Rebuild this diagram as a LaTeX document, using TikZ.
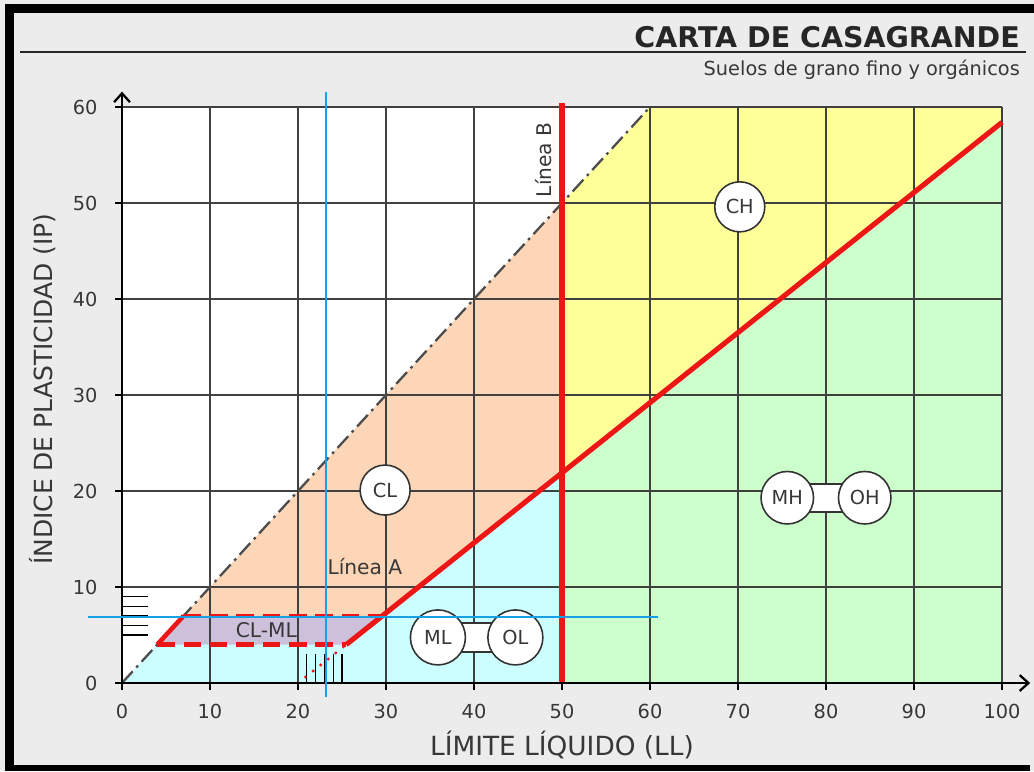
\documentclass[tikz,border=0pt]{standalone}
\usepackage{fontspec}
\setmainfont{DejaVu Sans}
\usepackage{tikz}
\usetikzlibrary{arrows.meta,positioning}
\definecolor{fondo}{RGB}{236,236,236}
\definecolor{cian}{RGB}{204,255,255}
\definecolor{naranja}{RGB}{252,214,182}
\definecolor{amarillo}{RGB}{255,255,153}
\definecolor{verde}{RGB}{204,255,204}
\definecolor{lila}{RGB}{204,192,218}
\definecolor{rojo}{RGB}{236,22,22}
\definecolor{azul}{RGB}{24,160,228}
\definecolor{texto}{RGB}{55,55,55}

\begin{document}
\begin{tikzpicture}[x=0.176cm,y=0.192cm,
font=\fontsize{11}{13}\selectfont,
soil/.style={circle,draw=black!80,fill=white,line width=0.9pt,minimum size=1cm,inner sep=0pt,text=texto,font=\fontsize{11}{13}\selectfont},
rejilla/.style={black!75,line width=0.6pt},
lineaRoja/.style={rojo,line width=2.9pt},
banda/.style={rojo,line width=2.6pt,dash pattern=on 10pt off 5pt},
guia/.style={azul,line width=1.1pt},
rayado/.style={black,line width=0.6pt},
enlace/.style={black!80,line width=0.9pt},
etiqueta/.style={text=texto,font=\fontsize{11}{13}\selectfont},
>={Straight Barb[length=5pt,width=9pt]}]
    % canvas and frame
    \useasboundingbox (-13.864,-9.167) rectangle (103.636,71.146);
    \fill[fondo] (-13.864,-9.167) rectangle (103.636,71.146);
    \fill[black] (-13.3,69.79) rectangle (103.636,70.73);
    \fill[black] (-13.3,-9.167) rectangle (-12.27,70.73);
    \fill[black] (-13.3,-9.167) rectangle (103.2,-8.54);

    % title
    \draw[black!85,line width=1.4pt] (-11.59,65.73) -- (102.73,65.73);
    \node[anchor=base east,text=black!85,font=\fontsize{16.2}{18}\bfseries] (titulo) at (102.73,66.2) {CARTA DE CASAGRANDE};
    \node[anchor=base east,text=texto,font=\fontsize{11}{13}\selectfont] (subtitulo) at (102.73,63.23) {Suelos de grano fino y orgánicos};

    \draw
    (0,0) coordinate (O)
    (25.48,4) coordinate (Ab)
    (29.59,7) coordinate (At)
    (50,21.9) coordinate (A50)
    (100,58.4) coordinate (A100)
    (50,0) coordinate (B0)
    (50,50) coordinate (B50)
    (60,60) coordinate (U60);

    % zones
    \fill[white] (O) rectangle (100,60);
    \fill[cian] (O) -- (B0) -- (A50) -- (At) -- (7,7) -- cycle;
    \fill[naranja] (7,7) -- (At) -- (A50) -- (B50) -- cycle;
    \fill[lila] (4,4) -- (Ab) -- (At) -- (7,7) -- cycle;
    \fill[amarillo] (B50) -- (A50) -- (A100) -- (100,60) -- (U60) -- cycle;
    \fill[verde] (B0) -- (100,0) -- (A100) -- (A50) -- cycle;

    % grid
    \foreach \x in {10,20,...,100}
        \draw[rejilla] (\x,0) -- (\x,60);
    \foreach \y in {10,20,...,60}
        \draw[rejilla] (0,\y) -- (100,\y);

    \draw[black!70,line width=1.3pt,dash pattern=on 9pt off 3pt on 1.5pt off 3pt] (O) -- (U60);

    \foreach \y in {5,...,9}
        \draw[rayado] (0,\y) -- (3,\y);
    \foreach \x in {21,...,25}
        \draw[rayado] (\x,0) -- (\x,3);

    % lines A and B
    \draw[lineaRoja] (Ab) -- (A100);
    \draw[rojo,line width=1.9pt,line cap=round,dash pattern=on 0pt off 5.5pt] (20,0) -- (Ab);
    \draw[rojo,line width=3.4pt] (B0) -- (50,60.4);
    \draw[banda] (7,7) -- (At);
    \draw[banda] (4,4) -- (Ab);
    \draw[rojo,line width=2.6pt] (4,4) -- (7,7);

    % axes
    \draw[<->,line width=1.3pt] (0,61.6) |- (103.2,0);
    \foreach \x in {0,10,...,100}
        \draw[line width=0.8pt] (\x,0) -- (\x,-0.75) node[etiqueta,anchor=center] (x\x) at (\x,-3.0) {\x};
    \foreach \y in {0,10,...,60}
        \draw[line width=0.8pt] (0,\y) -- (-0.8,\y) node[etiqueta,anchor=east] (y\y) at (-2.05,\y) {\y};
    \node[text=texto,font=\fontsize{15}{17}\selectfont] (ejex) at (50,-6.46) {LÍMITE LÍQUIDO (LL)};
    \node[rotate=90,text=texto,font=\fontsize{14.2}{16}\selectfont] (ejey) at (-8.98,30.6) {ÍNDICE DE PLASTICIDAD (IP)};

    \node[text=texto,font=\fontsize{11.5}{13}\selectfont] (lineaA) at (27.6,12.1) {Línea A};
    \node[rotate=90,text=texto,font=\fontsize{11.5}{13}\selectfont] (lineaB) at (47.9,54.5) {Línea B};
    \node[text=texto,font=\fontsize{11.5}{13}\selectfont] (clml) at (16.4,5.5) {CL-ML};

    % soil groups
    \node[soil] (CL) at (29.9,20.1) {CL};
    \node[soil] (CH) at (70.2,49.6) {CH};

    \coordinate (ml) at (35.9,4.75);
    \coordinate (ol) at (44.7,4.75);
    \fill[white] ([yshift=0.29cm]ml) rectangle ([yshift=-0.29cm]ol);
    \draw[enlace] ([yshift=0.29cm]ml) -- ([yshift=0.29cm]ol);
    \draw[enlace] ([yshift=-0.29cm]ml) -- ([yshift=-0.29cm]ol);
    \node[soil,minimum size=1.1cm] (ML) at (ml) {ML};
    \node[soil,minimum size=1.1cm] (OL) at (ol) {OL};

    \coordinate (mh) at (75.6,19.3);
    \coordinate (oh) at (84.4,19.3);
    \fill[white] ([yshift=0.28cm]mh) rectangle ([yshift=-0.28cm]oh);
    \draw[enlace] ([yshift=0.28cm]mh) -- ([yshift=0.28cm]oh);
    \draw[enlace] ([yshift=-0.28cm]mh) -- ([yshift=-0.28cm]oh);
    \node[soil,minimum size=1.05cm] (MH) at (mh) {MH};
    \node[soil,minimum size=1.05cm] (OH) at (oh) {OH};

    % guide lines
    \draw[guia] (23.2,61.56) -- (23.2,-1.46);
    \draw[guia] (-3.86,6.875) -- (60.9,6.875);

\end{tikzpicture}
\end{document}
